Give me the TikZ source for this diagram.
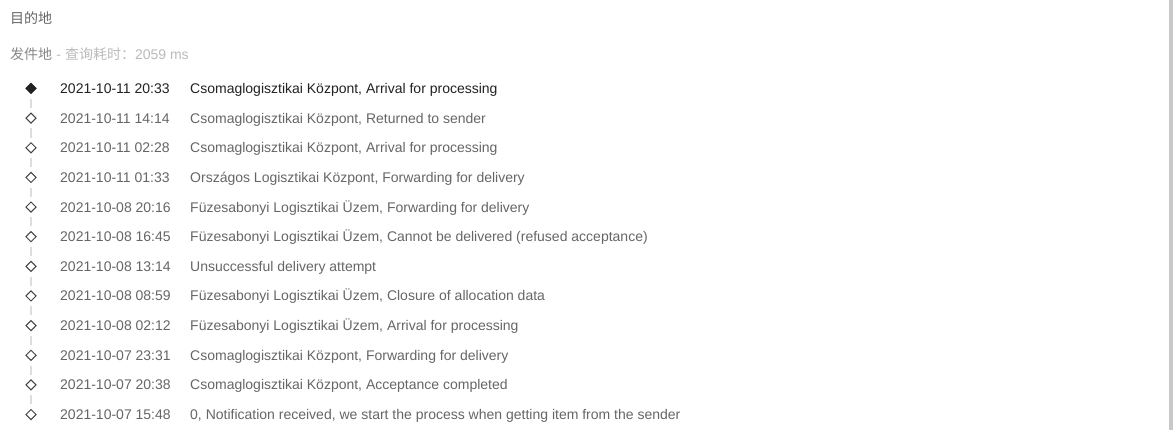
\documentclass[tikz,border=0pt]{standalone}
\usepackage{fontspec}
\setmainfont{Liberation Sans}
\newfontfamily\cjk{Noto Sans CJK SC}
\usetikzlibrary{shapes.geometric}
\definecolor{txtdark}{HTML}{222222}
\definecolor{txtgray}{HTML}{666666}
\definecolor{hdrgray}{HTML}{666666}
\definecolor{hdrlight}{HTML}{BBBBBB}
\definecolor{hdrmid}{HTML}{888888}
\definecolor{linegray}{HTML}{DDDDDD}
\definecolor{dotgray}{HTML}{444444}
\definecolor{barcol}{HTML}{C8C8C8}
\tikzset{
  txt/.style={anchor=base west, inner sep=0pt, font=\fontsize{14pt}{16pt}\selectfont},
  dotopen/.style={diamond, draw=dotgray, line width=1pt, fill=white, inner sep=0pt, minimum width=10.5pt, minimum height=10.5pt},
  dotfull/.style={diamond, draw=txtdark, line width=1pt, fill=txtdark, inner sep=0pt, minimum width=10.5pt, minimum height=10.5pt},
  seg/.style={draw=linegray, line width=2pt, shorten <=4.5pt, shorten >=4.5pt},
}
\begin{document}
\begin{tikzpicture}[x=1pt,y=-1pt]
\useasboundingbox (0,0) rectangle (1174,430);
\fill[white] (0,0) rectangle (1174,430);
\fill[barcol] (1169,0) rectangle (1173,430);
\node[txt, text=hdrgray] (dest) at (10,23.5) {\cjk 目的地};
\node[txt, text=hdrmid] (src) at (10,60) {\cjk 发件地};
\node[txt, text=hdrlight, anchor=base west] (time) at (src.base east) {\ -\ {\cjk 查询耗时：}2059 ms};
% rows
\foreach \i/\d/\t in {
 0/2021-10-11 20:33/{Csomaglogisztikai Központ, Arrival for processing},
 1/2021-10-11 14:14/{Csomaglogisztikai Központ, Returned to sender},
 2/2021-10-11 02:28/{Csomaglogisztikai Központ, Arrival for processing},
 3/2021-10-11 01:33/{Országos Logisztikai Központ, Forwarding for delivery},
 4/2021-10-08 20:16/{Füzesabonyi Logisztikai Üzem, Forwarding for delivery},
 5/2021-10-08 16:45/{Füzesabonyi Logisztikai Üzem, Cannot be delivered (refused acceptance)},
 6/2021-10-08 13:14/{Unsuccessful delivery attempt},
 7/2021-10-08 08:59/{Füzesabonyi Logisztikai Üzem, Closure of allocation data},
 8/2021-10-08 02:12/{Füzesabonyi Logisztikai Üzem, Arrival for processing},
 9/2021-10-07 23:31/{Csomaglogisztikai Központ, Forwarding for delivery},
 10/2021-10-07 20:38/{Csomaglogisztikai Központ, Acceptance completed},
 11/2021-10-07 15:48/{0, Notification received, we start the process when getting item from the sender}}{
  \pgfmathsetmacro{\yc}{88.5+\i*29.64}
  \pgfmathsetmacro{\yb}{\yc+5}
  \ifnum\i=0
    \node[dotfull] (m\i) at (31,\yc) {};
    \node[txt, text=txtdark] (d\i) at (60,\yb) {\d};
    \node[txt, text=txtdark] (t\i) at (190,\yb) {\t};
  \else
    \node[dotopen] (m\i) at (31,\yc) {};
    \node[txt, text=txtgray] (d\i) at (60,\yb) {\d};
    \node[txt, text=txtgray] (t\i) at (190,\yb) {\t};
  \fi
}
\foreach \i [evaluate=\i as \j using int(\i+1)] in {0,...,10}{
  \draw[seg] (m\i.south) -- (m\j.north);
}
\end{tikzpicture}
\end{document}
